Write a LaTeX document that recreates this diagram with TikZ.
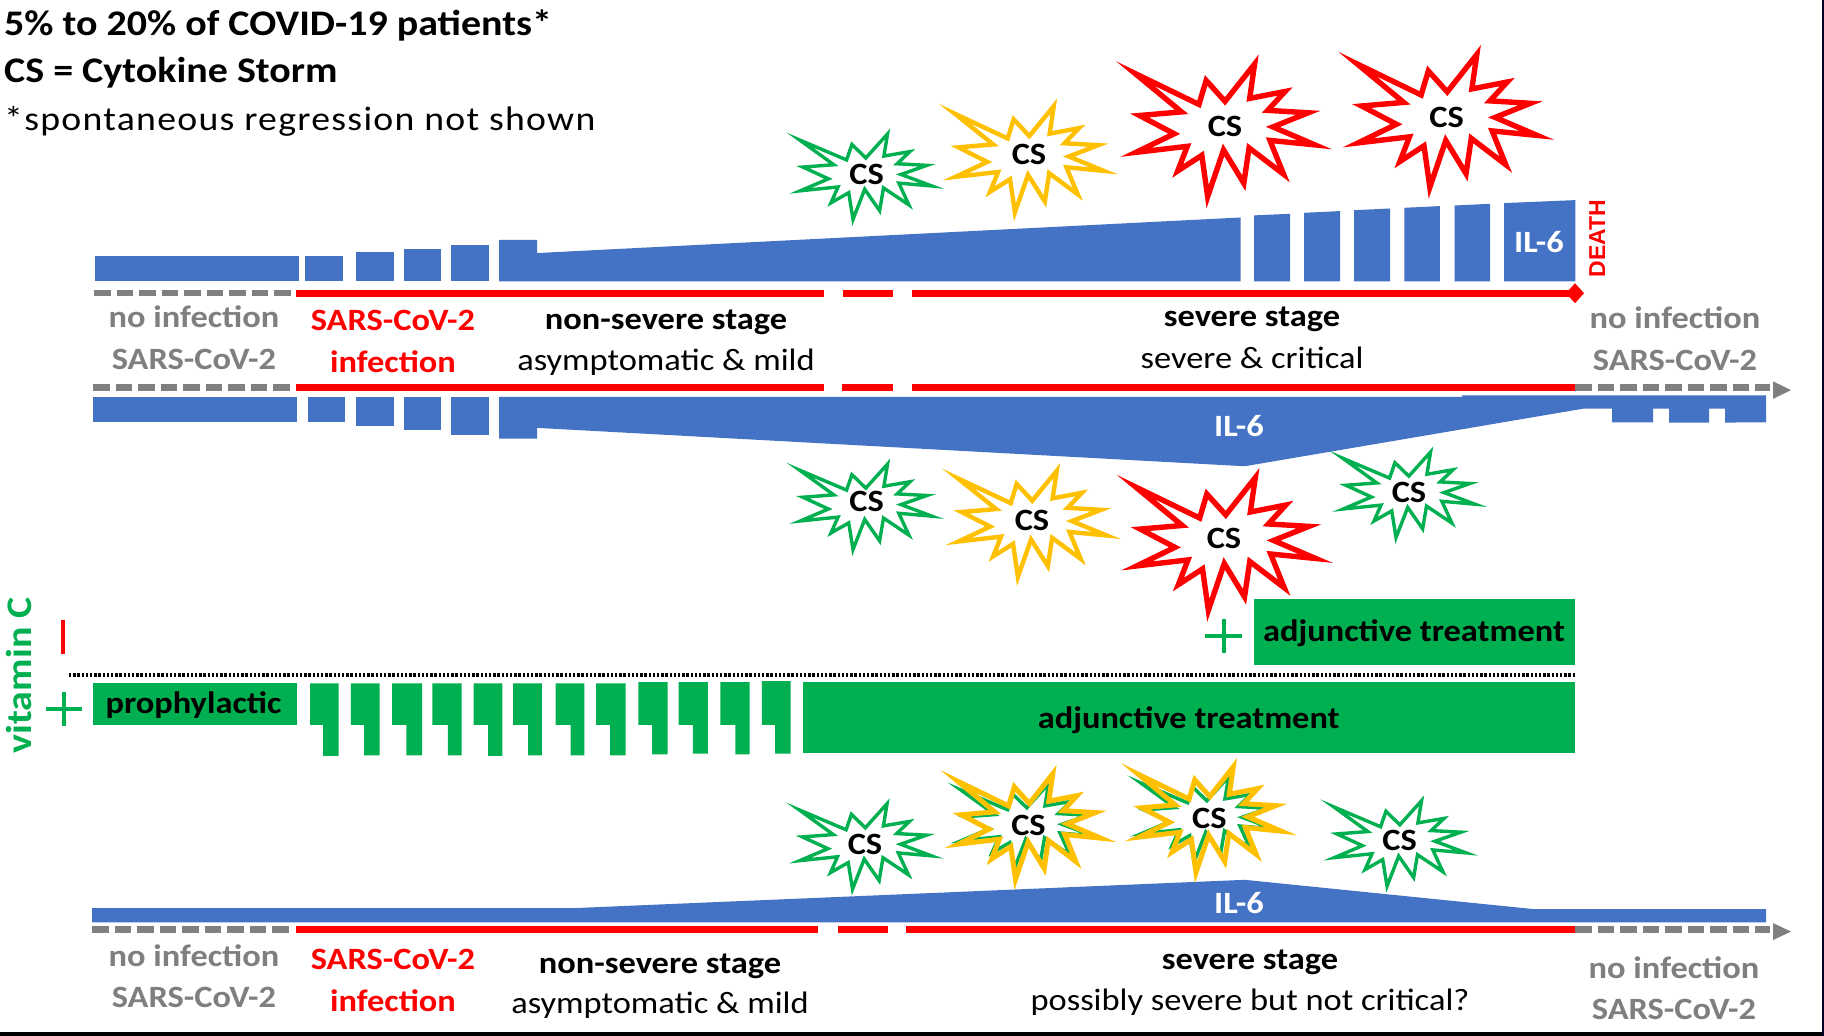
\documentclass[tikz,border=0pt]{standalone}
\usepackage{fontspec}
\setmainfont{Carlito}[FakeStretch=1.11]
\newfontfamily\deathfont{Liberation Sans}
\newfontfamily\spacedfont{Carlito}[FakeStretch=1.11,LetterSpace=3.8]
\definecolor{ilblue}{HTML}{4472C4}
\definecolor{vcgreen}{HTML}{00B050}
\definecolor{alarm}{HTML}{FF0000}
\definecolor{quiet}{HTML}{7F7F7F}
\definecolor{amber}{HTML}{FFC000}
\tikzset{
  burst/.pic={
    \path[pic actions] (-103.7,-62.7) -- (-30.3,-28.3) -- (-22,-55) -- (-0.3,-31.7)
      -- (33.7,-73.3) -- (28,-35) -- (68.7,-42.7) -- (48.7,-21.7) -- (95.3,-19)
      -- (54.7,-3.3) -- (103,16.7) -- (51.3,11.7) -- (67,49.3) -- (27.3,20)
      -- (21.3,59.3) -- (-2,22.3) -- (-20.3,74.3) -- (-27,28.3) -- (-54.7,45.7)
      -- (-43.7,18.3) -- (-102.7,25) -- (-58.7,4.3) -- (-98.7,-16) -- (-50.3,-20)
      -- cycle;
  },
  stormred/.style={draw=alarm,fill=white,line width=5.4pt,miter limit=12,xscale=.87,yscale=.9},
  stormamber/.style={draw=amber,fill=white,line width=4.4pt,miter limit=12,xscale=.72,yscale=.72},
  stormgreen/.style={draw=vcgreen,fill=white,line width=3.4pt,miter limit=12,xscale=.64,yscale=.58},
  stormover/.style={draw=amber,line width=5pt,miter limit=12,xscale=.69,yscale=.715},
  cs/.style={anchor=base,font=\fontsize{31}{36}\selectfont\bfseries,text=black,inner sep=0pt},
  level/.style={fill=ilblue},
  drug/.style={fill=vcgreen},
  lbl/.style={anchor=base,inner sep=0pt,font=\fontsize{31}{36}\selectfont},
  lblb/.style={anchor=base,inner sep=0pt,font=\fontsize{31}{36}\selectfont\bfseries},
  il/.style={lblb,text=white},
  gap/.style={line width=6.5pt,quiet,dash pattern=on 16.5pt off 6pt},
  infected/.style={line width=6.8pt,alarm},
  tip/.style={fill=quiet},
}
\begin{document}
\begin{tikzpicture}[x=1pt,y=-0.999pt]
\useasboundingbox (0,0) rectangle (1824,1037);
\fill[white] (0,0) rectangle (1824,1037);

% heading
\node[anchor=base west,inner sep=0pt,font=\fontsize{36}{40}\selectfont\bfseries] (headA) at (4,36) {5\% to 20\% of COVID-19 patients*};
\node[anchor=base west,inner sep=0pt,font=\fontsize{36}{40}\selectfont\bfseries] (headB) at (4,83) {CS = Cytokine Storm};
\node[anchor=base west,inner sep=0pt,font=\fontsize{34}{40}\selectfont\spacedfont] (headC) at (4,131) {*spontaneous regression not shown};

% upper course: IL-6 rising towards death
\fill[level] (95,256) rectangle (298.5,281.7);
\fill[level] (305.4,256) rectangle (343.3,281.7);
\fill[level] (356,252.7) rectangle (394,281.7);
\fill[level] (403.6,249.3) rectangle (441,281.7);
\fill[level] (450.6,245) rectangle (488.5,281.7);
\fill[level] (499,240) -- (537,240) -- (537,253.3) -- (1240.6,217.7) -- (1240.6,281.7) -- (499,281.7) -- cycle;
\fill[level] (1254,215.6) -- (1290,214) -- (1290,281.7) -- (1254,281.7) -- cycle;
\fill[level] (1304,213) -- (1340,211.3) -- (1340,281.7) -- (1304,281.7) -- cycle;
\fill[level] (1354,210.4) -- (1390,208.7) -- (1390,281.7) -- (1354,281.7) -- cycle;
\fill[level] (1404.4,208) -- (1439.8,206.3) -- (1439.8,281.7) -- (1404.4,281.7) -- cycle;
\fill[level] (1454.5,205.7) -- (1490,204) -- (1490,281.7) -- (1454.5,281.7) -- cycle;
\fill[level] (1504,203.3) -- (1575.3,200.3) -- (1575.3,281.7) -- (1504,281.7) -- cycle;
\node[il] (ilA) at (1539,252.7) {IL-6};
\node[rotate=90,anchor=base,inner sep=0pt,font=\fontsize{23}{26}\selectfont\deathfont\bfseries,text=alarm] (death) at (1605,239) {DEATH};

% upper time axis
\draw[gap] (94,293.5) -- (292,293.5);
\draw[infected] (295.6,293.5) -- (824,293.5);
\draw[infected] (842.7,293.5) -- (892.7,293.5);
\draw[infected] (912,293.5) -- (1570,293.5);
\fill[alarm] (1575,283.5) -- (1584,293.5) -- (1575,303.5) -- (1566,293.5) -- cycle;

% upper labels
\node[lblb,text=quiet] (noA) at (194,328) {no infection};
\node[lblb,text=quiet] (sarsA) at (194,370) {SARS-CoV-2};
\node[lblb,text=alarm] (covA) at (393,331) {SARS-CoV-2};
\node[lblb,text=alarm] (infA) at (393,372.7) {infection};
\node[lblb] (nsA) at (666,330) {non-severe stage};
\node[lbl] (asA) at (666,371) {asymptomatic \& mild};
\node[lblb] (sevA) at (1252,327) {severe stage};
\node[lbl] (critA) at (1252,369) {severe \& critical};
\node[lblb,text=quiet] (noB) at (1675,329) {no infection};
\node[lblb,text=quiet] (sarsB) at (1675,370.7) {SARS-CoV-2};

% middle time axis
\draw[gap] (93,388) -- (292,388);
\draw[infected] (296,388) -- (824,388);
\draw[infected] (842,388) -- (892.7,388);
\draw[infected] (912,388) -- (1575,388);
\draw[gap] (1575,388) -- (1770,388);
\fill[tip] (1773,381.7) -- (1791,390.5) -- (1773,399.3) -- cycle;

% middle course: IL-6 falling during recovery
\fill[level] (93,397.3) rectangle (297.4,422.7);
\fill[level] (307.7,397.3) rectangle (345,422.7);
\fill[level] (356,397.3) rectangle (394,426);
\fill[level] (403.6,397.3) rectangle (441,430);
\fill[level] (450.6,397.3) rectangle (488.5,435);
\fill[level] (499,397.3) -- (1462,397.3) -- (1462,395.7) -- (1766,395.7) -- (1766,422.7)
  -- (1725,423) -- (1725,409) -- (1709,409) -- (1709,423) -- (1669,423) -- (1669,409)
  -- (1653,409) -- (1653,422.7) -- (1612,422.7) -- (1612,409) -- (1583.6,409)
  -- (1244.7,466.7) -- (537,428.3) -- (537,439) -- (499,439) -- cycle;
\node[il] (ilB) at (1239,436.7) {IL-6};

% vitamin C zone
\node[rotate=90,anchor=base,inner sep=0pt,font=\fontsize{36}{40}\selectfont\bfseries,text=vcgreen] (vitc) at (31,676) {vitamin C};
\draw[line width=3.6pt,alarm] (63,620.7) -- (63,655);
\draw[line width=4pt,vcgreen] (46,710) -- (81.5,710) (64,693) -- (64,726.7);
\draw[line width=4.4pt,black,dash pattern=on 2.3pt off 1.9pt] (69,675.7) -- (1575,675.7);

\fill[drug] (1253.6,599.3) rectangle (1575.3,666);
\draw[line width=4pt,vcgreen] (1205,637) -- (1242,637) (1223.5,620) -- (1223.5,654);
\node[lblb] (adjA) at (1414,642.5) {adjunctive treatment};

\fill[drug] (93,684) rectangle (297.4,725.7);
\node[lblb] (proph) at (193.5,714) {prophylactic};

% recurring doses
\foreach \l/\n/\r/\t/\b in {310/323.2/338.7/684/756.7,350.8/364/379.5/684/756,392/406.4/422/684/756,
  432.3/447.8/461.5/684/756,473.6/488/502.3/684/756.7,513.2/528/541.9/684/756,555.7/570.6/584.4/684/756,
  596/610.2/625.7/684/756,638.4/652/667.6/682.7/755,678.5/692.9/707.8/682.7/754.3,720.4/735.4/749.7/682.7/755,761.8/775/790.5/681.7/754.3}
  \fill[drug] (\l,\t) -- (\r,\t) -- (\r,\b) -- (\n,\b) -- (\n,725.7) -- (\l,725.7) -- cycle;

\fill[drug] (802.5,682.3) rectangle (1575.3,754);
\node[lblb] (adjB) at (1188.7,729.5) {adjunctive treatment};

% lower course: IL-6 stays low
\fill[level] (92,909) -- (574,909) -- (1244.7,880.7) -- (1533.5,910) -- (1766,910) -- (1766,923.3) -- (92,923.3) -- cycle;
\node[il] (ilC) at (1239,914.3) {IL-6};

% lower time axis
\draw[gap] (92,930.3) -- (290,930.3);
\draw[infected] (295.6,930.3) -- (818,930.3);
\draw[infected] (838,930.3) -- (888,930.3);
\draw[infected] (906,930.3) -- (1575,930.3);
\draw[gap] (1575,930.3) -- (1770,930.3);
\fill[tip] (1773,924) -- (1791,932.5) -- (1773,941) -- cycle;

% lower labels
\node[lblb,text=quiet] (noC) at (194,967.7) {no infection};
\node[lblb,text=quiet] (sarsC) at (194,1009) {SARS-CoV-2};
\node[lblb,text=alarm] (covC) at (393,970.7) {SARS-CoV-2};
\node[lblb,text=alarm] (infC) at (393,1012.7) {infection};
\node[lblb] (nsC) at (660,974) {non-severe stage};
\node[lbl] (asC) at (660,1015) {asymptomatic \& mild};
\node[lblb] (sevC) at (1250,970) {severe stage};
\node[lbl] (critC) at (1250,1012) {possibly severe but not critical?};
\node[lblb,text=quiet] (noD) at (1674,979) {no infection};
\node[lblb,text=quiet] (sarsD) at (1674,1020.7) {SARS-CoV-2};

% cytokine storms, upper row
\pic[stormgreen] (sA) at (866,176.5) {burst};
\node[cs] (csA) at (866.7,185) {CS};
\pic[stormamber] (sB) at (1029.5,159) {burst};
\node[cs] (csB) at (1029,165) {CS};
\pic[stormred] (sC) at (1225.3,130) {burst};
\node[cs] (csC) at (1225,136.7) {CS};
\pic[stormred] (sD) at (1447.5,120.5) {burst};
\node[cs] (csD) at (1446.7,127.3) {CS};

% cytokine storms, middle row
\pic[stormgreen] (sE) at (866,507) {burst};
\node[cs] (csE) at (866.7,512) {CS};
\pic[stormamber] (sF) at (1032.5,524) {burst};
\node[cs] (csF) at (1032,531.5) {CS};
\pic[stormred] (sG) at (1226,544) {burst};
\node[cs] (csG) at (1224,549) {CS};
\pic[stormgreen] (sH) at (1409,495) {burst};
\node[cs] (csH) at (1409,503) {CS};

% cytokine storms, lower row
\pic[stormgreen] (sI) at (865.5,847) {burst};
\node[cs] (csI) at (865,855.7) {CS};
\pic[stormgreen] (sJg) at (1027,827) {burst};
\pic[stormover] (sJ) at (1029.5,827) {burst};
\node[cs] (csJ) at (1028.5,836.7) {CS};
\pic[stormgreen] (sKg) at (1207,820) {burst};
\pic[stormover] (sK) at (1210,820) {burst};
\node[cs] (csK) at (1209.4,829) {CS};
\pic[stormgreen] (sL) at (1400,844) {burst};
\node[cs] (csL) at (1399.7,851.7) {CS};

% image frame
\fill[black] (0,1032.7) rectangle (1824,1037);
\fill[black!85!blue] (1821.5,0) rectangle (1824,1037);
\end{tikzpicture}
\end{document}
